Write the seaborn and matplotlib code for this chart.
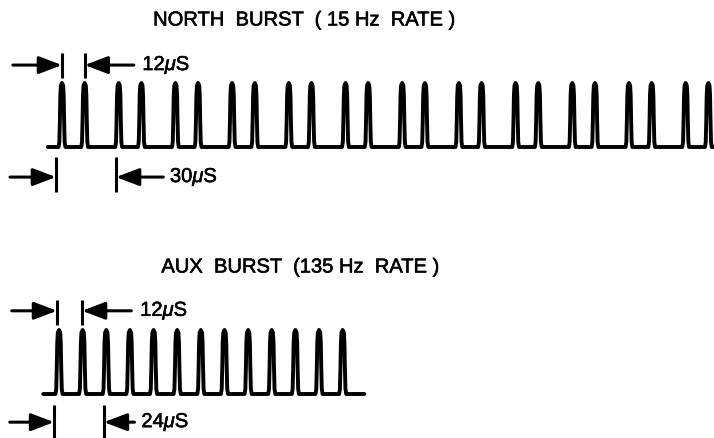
import numpy as np
import pandas as pd
import matplotlib
matplotlib.use("Agg")
import matplotlib.pyplot as plt
import matplotlib.patheffects as pe
import seaborn as sns

# Pulse timing data (microseconds)
north_pulses = [0, 12, 30, 42, 60, 72, 90, 102, 120, 132, 150, 162,
                180, 192, 210, 222, 240, 252, 270, 282, 300, 312, 330, 342]
north_span = [-7.5, 350]
aux_pulses = [0, 12, 24, 36, 48, 60, 72, 84, 96, 108, 120, 132, 144]
aux_span = [-8, 155]

north_title = "NORTH  BURST  ( 15 Hz  RATE )"
aux_title = "AUX  BURST  (135 Hz  RATE )"

# dimension markers: (left tick, right tick, label)
north_dims = [(0, 12, "12$\\mu$S"), (-3.2, 28.6, "30$\\mu$S")]
aux_dims = [(-1, 11.7, "12$\\mu$S"), (-2.5, 22.8, "24$\\mu$S")]

# pulse profile (offset in uS, relative height)
prof_dx = [-1.8, -1.4, -1.1, -0.9, -0.6, 0, 0.6, 0.9, 1.1, 1.4, 1.8]
prof_dy = [0, 0.08, 0.45, 0.8, 0.96, 1, 0.96, 0.8, 0.45, 0.08, 0]


def trace(pulses, span):
    xs, ys = [span[0]], [0]
    for p in pulses:
        xs += [p + d for d in prof_dx]
        ys += prof_dy
    xs.append(span[1])
    ys.append(0)
    return pd.DataFrame({"t": xs, "v": ys})


sns.set_style("white")
plt.rcParams["font.family"] = ["Liberation Sans", "DejaVu Sans"]
plt.rcParams["text.color"] = "black"
plt.rcParams["mathtext.fontset"] = "custom"
plt.rcParams["mathtext.it"] = "Liberation Sans:italic"
plt.rcParams["mathtext.rm"] = "Liberation Sans"

W, H = 714, 438
fig = plt.figure(figsize=(W / 100, H / 100), dpi=100)
thick = [pe.withStroke(linewidth=0.4, foreground="black")]


def make_ax(top_px, bot_px, base_px, x0_px, scale):
    # scale: px per uS, 64 px per unit height
    ax = fig.add_axes([0, 1 - bot_px / H, 1, (bot_px - top_px) / H])
    ax.set_xlim(-x0_px / scale, (W - x0_px) / scale)
    ax.set_ylim((base_px - bot_px) / 64, (base_px - top_px) / 64)
    ax.axis("off")
    return ax


def dim(ax, left, right, label, y, ylo, yhi, x_start, arrow_len, text_gap):
    kw = dict(color="black", lw=2.2, solid_capstyle="butt")
    ax.plot([left, left], [ylo, yhi], **kw)
    ax.plot([right, right], [ylo, yhi], **kw)
    ap = dict(arrowstyle="-|>,head_length=1.0,head_width=0.38", color="black",
              lw=2.2, shrinkA=0, shrinkB=0, mutation_scale=14)
    ax.annotate("", xy=(left, y), xytext=(x_start, y), arrowprops=ap)
    ax.annotate("", xy=(right, y), xytext=(right + arrow_len, y), arrowprops=ap)
    ax.text(right + arrow_len + text_gap, y, label, ha="left", va="center",
            fontsize=14.5, color="black", path_effects=thick)


# North burst
ax1 = make_ax(0, 219, 147, 62, 1.89)
sns.lineplot(data=trace(north_pulses, north_span), x="t", y="v", sort=False,
             estimator=None, color="black", lw=2.8, ax=ax1)
dim(ax1, *north_dims[0], y=1.28, ylo=1.08, yhi=1.47, x_start=-26, arrow_len=26, text_gap=4.5)
dim(ax1, *north_dims[1], y=-0.47, ylo=-0.70, yhi=-0.16, x_start=-27.5, arrow_len=25, text_gap=3.5)

# Aux burst
ax2 = make_ax(219, 438, 394, 59, 1.97)
sns.lineplot(data=trace(aux_pulses, aux_span), x="t", y="v", sort=False,
             estimator=None, color="black", lw=2.8, ax=ax2)
dim(ax2, *aux_dims[0], y=1.30, ylo=1.08, yhi=1.47, x_start=-24, arrow_len=25, text_gap=4.5)
dim(ax2, *aux_dims[1], y=-0.44, ylo=-0.69, yhi=-0.17, x_start=-25, arrow_len=15.5, text_gap=3.5)

fig.text(304 / W, 1 - 20 / H, north_title, ha="center", va="center",
         fontsize=14.5, path_effects=thick)
fig.text(300 / W, 1 - 267 / H, aux_title, ha="center", va="center",
         fontsize=14.5, path_effects=thick)

fig.savefig("out.png", dpi=100, facecolor="white")
